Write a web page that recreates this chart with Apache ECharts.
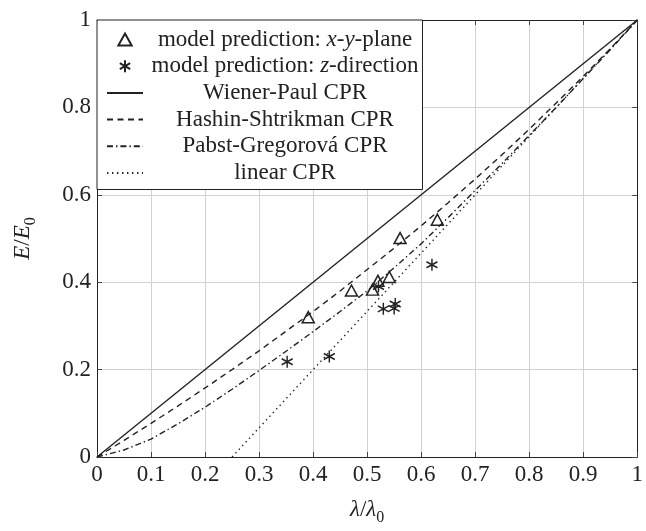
<!DOCTYPE html>
<html>
<head>
<meta charset="utf-8">
<script src="https://cdn.jsdelivr.net/npm/echarts@6/dist/echarts.min.js"></script>
<style>
  html, body { margin: 0; padding: 0; background: #fff; }
  #chart { width: 646px; height: 531px; }
</style>
</head>
<body>
<div id="chart"></div>
<script>
// Axis ticks
const xTicks = [0, 0.1, 0.2, 0.3, 0.4, 0.5, 0.6, 0.7, 0.8, 0.9, 1];
const yTicks = [0, 0.2, 0.4, 0.6, 0.8, 1];

// Sample points (lambda / lambda0) for the cross-property curves
const lambdaGrid = [0, 0.05, 0.1, 0.15, 0.2, 0.25, 0.3, 0.35, 0.4, 0.45, 0.5,
                    0.55, 0.6, 0.65, 0.7, 0.75, 0.8, 0.85, 0.9, 0.95, 1];
const hashinShtrikman = [0, 0.038, 0.077, 0.117, 0.158, 0.200, 0.243, 0.288, 0.333, 0.380, 0.429,
                         0.478, 0.529, 0.582, 0.636, 0.692, 0.750, 0.810, 0.871, 0.934, 1];
const pabstGregorova = [0, 0.016, 0.041, 0.076, 0.114, 0.155, 0.198, 0.242, 0.287, 0.333, 0.380,
                        0.433, 0.488, 0.548, 0.610, 0.672, 0.736, 0.800, 0.866, 0.932, 1];
const wienerPaulX = [0, 1];
const wienerPaulY = [0, 1];
const linearX = [0.25, 1];
const linearY = [0, 1];

// Model predictions
const xyPlaneLambda = [0.391, 0.471, 0.510, 0.520, 0.541, 0.561, 0.630];
const xyPlaneE      = [0.320, 0.381, 0.383, 0.403, 0.412, 0.501, 0.543];
const zDirLambda    = [0.352, 0.430, 0.521, 0.530, 0.550, 0.552, 0.620];
const zDirE         = [0.218, 0.230, 0.390, 0.339, 0.340, 0.350, 0.440];

const names = [
  'model prediction: x-y-plane',
  'model prediction: z-direction',
  'Wiener-Paul CPR',
  'Hashin-Shtrikman CPR',
  'Pabst-Gregorová CPR',
  'linear CPR'
];

const pair = (xs, ys) => xs.map((x, i) => [x, ys[i]]);

const INK = '#222';
const SERIF = '"Liberation Serif", "DejaVu Serif", serif';
const FS = 23;

const legendLabels = {
  [names[0]]: '{t|model prediction: }{m|x}{t|-}{m|y}{t|-plane}',
  [names[1]]: '{t|model prediction: }{m|z}{t|-direction}'
};

// Outline triangle and six-armed asterisk marks
const triangle = 'path://M0,-1L1,0.8L-1,0.8Z';
const asterisk = 'path://M0,-10L0,10M-8.66,-5L8.66,5M-8.66,5L8.66,-5';

// Hidden item style so curve entries in the legend show only the line sample
const noMark = { color: 'rgba(0,0,0,0)', borderWidth: 0, opacity: 1 };

const chart = echarts.init(document.getElementById('chart'), null, { renderer: 'canvas' });

const baseAxis = {
  type: 'value',
  min: xTicks[0],
  max: xTicks[xTicks.length - 1],
  interval: xTicks[1] - xTicks[0],
  axisLine: { show: true, onZero: false, lineStyle: { color: INK, width: 1 } },
  axisTick: { show: true, inside: true, length: 5, lineStyle: { color: '#444', width: 1 } }
};

const nameRich = {
  i: { fontFamily: SERIF, fontStyle: 'italic', fontSize: FS, color: INK, lineHeight: 24 },
  t: { fontFamily: SERIF, fontSize: FS, color: INK, lineHeight: 24 },
  s: { fontFamily: SERIF, fontSize: 16, color: INK, verticalAlign: 'bottom', lineHeight: 24, padding: [0, 0, -4, 0] }
};

chart.setOption({
  animation: false,
  backgroundColor: '#fff',
  textStyle: { fontFamily: SERIF, color: INK },
  grid: { left: 97, right: 6, top: 20, bottom: 60, containLabel: false },
  xAxis: [
    Object.assign({}, baseAxis, {
      position: 'bottom',
      axisLabel: { show: true, margin: 6, fontSize: FS, fontFamily: SERIF, color: INK },
      splitLine: { show: true, lineStyle: { color: '#d2d2d2', width: 1 } },
      name: '{i|λ}{t|/}{i|λ}{s|0}',
      nameLocation: 'middle',
      nameGap: 41,
      nameTextStyle: { rich: nameRich }
    }),
    Object.assign({}, baseAxis, {
      position: 'top',
      axisLabel: { show: false },
      splitLine: { show: false }
    })
  ],
  yAxis: [
    Object.assign({}, baseAxis, {
      min: yTicks[0],
      max: yTicks[yTicks.length - 1],
      interval: yTicks[1] - yTicks[0],
      position: 'left',
      axisLabel: { show: true, margin: 6, fontSize: FS, fontFamily: SERIF, color: INK },
      splitLine: { show: true, lineStyle: { color: '#d2d2d2', width: 1 } },
      name: '{i|E}{t|/}{i|E}{s|0}',
      nameLocation: 'middle',
      nameGap: 62,
      nameRotate: 90,
      nameTextStyle: { rich: nameRich }
    }),
    Object.assign({}, baseAxis, {
      min: yTicks[0],
      max: yTicks[yTicks.length - 1],
      interval: yTicks[1] - yTicks[0],
      position: 'right',
      axisLabel: { show: false },
      splitLine: { show: false }
    })
  ],
  legend: {
    orient: 'vertical',
    left: 97,
    top: 20,
    padding: [8, 4, 5, 9],
    itemGap: 3.7,
    itemWidth: 36,
    itemHeight: 12,
    backgroundColor: '#fff',
    borderColor: INK,
    borderWidth: 1,
    borderRadius: 0,
    selectedMode: false,
    data: names,
    formatter: (name) => legendLabels[name] || ('{t|' + name + '}'),
    textStyle: {
      width: 274,
      fontFamily: SERIF,
      fontSize: FS,
      color: INK,
      rich: {
        t: { fontFamily: SERIF, fontSize: FS, color: INK, align: 'center', lineHeight: 23 },
        m: { fontFamily: SERIF, fontStyle: 'italic', fontSize: FS, color: INK, align: 'center', lineHeight: 23 }
      }
    }
  },
  series: [
    {
      name: names[2],
      type: 'line',
      data: pair(wienerPaulX, wienerPaulY),
      symbol: 'none',
      lineStyle: { color: INK, width: 1.4, type: 'solid' },
      itemStyle: noMark,
      z: 2
    },
    {
      name: names[3],
      type: 'line',
      data: pair(lambdaGrid, hashinShtrikman),
      symbol: 'none',
      lineStyle: { color: INK, width: 1.4, type: [6, 4.5] },
      itemStyle: noMark,
      z: 2
    },
    {
      name: names[4],
      type: 'line',
      data: pair(lambdaGrid, pabstGregorova),
      symbol: 'none',
      lineStyle: { color: INK, width: 1.4, type: [6, 3, 1.4, 3] },
      itemStyle: noMark,
      z: 2
    },
    {
      name: names[5],
      type: 'line',
      data: pair(linearX, linearY),
      symbol: 'none',
      lineStyle: { color: INK, width: 1.4, type: [1.4, 3.6] },
      itemStyle: noMark,
      z: 2
    },
    {
      name: names[0],
      type: 'scatter',
      data: pair(xyPlaneLambda, xyPlaneE),
      symbol: triangle,
      symbolSize: [12, 11],
      itemStyle: { color: 'rgba(255,255,255,0)', borderColor: INK, borderWidth: 1.5, opacity: 1 },
      z: 3
    },
    {
      name: names[1],
      type: 'scatter',
      data: pair(zDirLambda, zDirE),
      symbol: asterisk,
      symbolSize: [11, 12],
      itemStyle: { color: INK, borderColor: INK, borderWidth: 1.5, opacity: 1 },
      z: 3
    }
  ]
});
</script>
</body>
</html>
